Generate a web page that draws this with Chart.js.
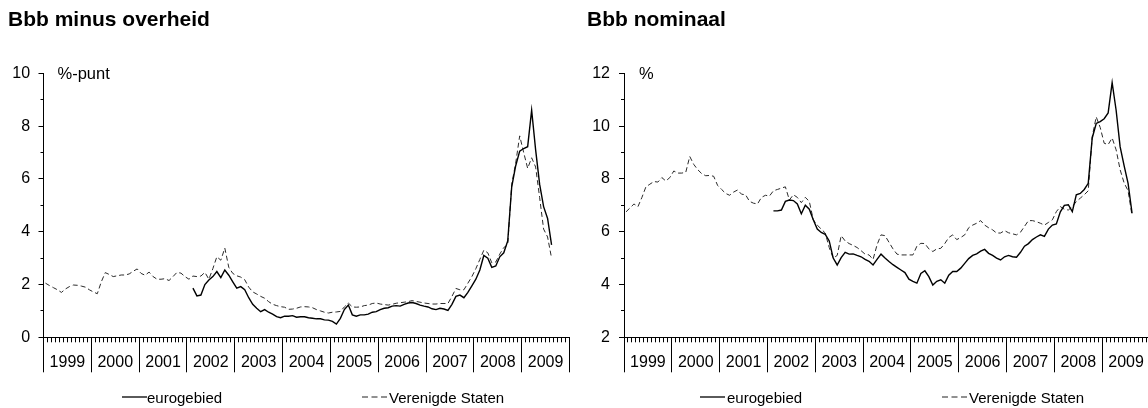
<!DOCTYPE html>
<html><head><meta charset="utf-8">
<script src="https://cdn.jsdelivr.net/npm/chart.js@4.4.1/dist/chart.umd.min.js"></script>
<style>
html,body{margin:0;padding:0;background:#fff;width:1148px;height:408px;overflow:hidden;position:relative;font-family:'Liberation Sans',Arial,sans-serif;color:#000}
.box{position:absolute;top:0;width:578px;height:408px}
.t{position:absolute;white-space:nowrap}
.title{font-weight:bold;font-size:21px;line-height:21px;top:8px}
.unit{font-size:16.5px;line-height:17px;top:65px}
.lg{font-size:15px;line-height:15px;top:390px}
svg.ls{position:absolute;top:392px;overflow:visible}
</style></head>
<body>
<div class="box" style="left:0"><canvas id="c1" width="578" height="408"></canvas></div>
<div class="box" style="left:578px"><canvas id="c2" width="578" height="408"></canvas></div>

<div class="t title" style="left:8px">Bbb minus overheid</div>
<div class="t title" style="left:587px">Bbb nominaal</div>
<div class="t unit" style="left:57.5px">%-punt</div>
<div class="t unit" style="left:639px">%</div>

<svg class="ls" style="left:122px" width="25" height="10"><line x1="0" y1="5" x2="25" y2="5" stroke="#000" stroke-width="1.3"/></svg>
<div class="t lg" style="left:147px">eurogebied</div>
<svg class="ls" style="left:362px" width="25" height="10"><line x1="0" y1="5" x2="25" y2="5" stroke="#222" stroke-width="1" stroke-dasharray="6 3.5"/></svg>
<div class="t lg" style="left:389px">Verenigde Staten</div>

<svg class="ls" style="left:700px" width="25" height="10"><line x1="0" y1="5" x2="25" y2="5" stroke="#000" stroke-width="1.3"/></svg>
<div class="t lg" style="left:727px">eurogebied</div>
<svg class="ls" style="left:942px" width="25" height="10"><line x1="0" y1="5" x2="25" y2="5" stroke="#222" stroke-width="1" stroke-dasharray="6 3.5"/></svg>
<div class="t lg" style="left:969px">Verenigde Staten</div>

<script>
// ---- data (monthly, Jan 1999 = month 0) ----
const years = [1999, 2000, 2001, 2002, 2003, 2004, 2005, 2006, 2007, 2008, 2009];
const firstUSMonth = 0;     // Jan 1999
const firstEuroMonth = 37;  // Feb 2002

// Bbb minus overheid (%-punt)
const spreadEuro = [
  1.86, 1.57, 1.6, 2.0, 2.17, 2.3, 2.49, 2.26, 2.55, 2.35, 2.1,
  1.86, 1.92, 1.8, 1.5, 1.25, 1.1, 0.97, 1.05, 0.95, 0.88, 0.78, 0.74,
  0.8, 0.8, 0.82, 0.76, 0.78, 0.78, 0.74, 0.72, 0.7, 0.7, 0.66, 0.65,
  0.6, 0.5, 0.72, 1.05, 1.22, 0.85, 0.8, 0.85, 0.85, 0.88, 0.95, 0.97,
  1.05, 1.1, 1.12, 1.18, 1.2, 1.18, 1.25, 1.3, 1.32, 1.28, 1.22, 1.18,
  1.15, 1.08, 1.05, 1.1, 1.07, 1.02, 1.25, 1.55, 1.6, 1.5, 1.7, 1.95,
  2.2, 2.55, 3.1, 3.0, 2.65, 2.7, 3.05, 3.2, 3.65, 5.7, 6.5, 7.05,
  7.15, 7.22, 8.6, 7.1, 5.8, 4.95, 4.5, 3.5
];
const spreadUS = [
  2.05, 1.96, 1.88, 1.8, 1.7, 1.83, 1.92, 1.98, 1.97, 1.94, 1.9, 1.8,
  1.72, 1.65, 2.1, 2.45, 2.38, 2.3, 2.33, 2.36, 2.36, 2.4, 2.5, 2.59,
  2.42, 2.35, 2.47, 2.3, 2.2, 2.2, 2.22, 2.15, 2.3, 2.46, 2.43, 2.3,
  2.2, 2.32, 2.3, 2.32, 2.46, 2.2, 2.6, 3.05, 2.92, 3.38, 2.65, 2.42,
  2.33, 2.28, 2.18, 1.9, 1.72, 1.64, 1.55, 1.48, 1.35, 1.25, 1.2, 1.16,
  1.14, 1.06, 1.07, 1.1, 1.15, 1.16, 1.15, 1.12, 1.05, 1.0, 0.95, 0.92,
  0.95, 0.96, 0.98, 1.15, 1.3, 1.15, 1.14, 1.15, 1.2, 1.22, 1.28, 1.3,
  1.26, 1.24, 1.22, 1.25, 1.29, 1.31, 1.33, 1.35, 1.39, 1.36, 1.33, 1.3,
  1.28, 1.26, 1.26, 1.28, 1.28, 1.28, 1.55, 1.85, 1.8, 1.8, 2.05, 2.3,
  2.6, 2.95, 3.3, 3.2, 2.82, 2.85, 3.15, 3.4, 3.5, 5.8, 6.6, 7.63,
  7.0, 6.4, 6.8, 6.45, 5.3, 4.1, 3.8, 3.0
];

// Bbb nominaal (%)
const nominalEuro = [
  6.79, 6.79, 6.82, 7.15, 7.2, 7.18, 7.05, 6.68, 7.0, 6.85, 6.45,
  6.1, 5.97, 5.9, 5.65, 5.0, 4.74, 5.02, 5.22, 5.15, 5.16, 5.1, 5.05,
  4.95, 4.88, 4.74, 4.95, 5.15, 5.0, 4.87, 4.75, 4.65, 4.55, 4.45, 4.2,
  4.12, 4.05, 4.42, 4.52, 4.3, 3.98, 4.12, 4.18, 4.05, 4.35, 4.49, 4.49,
  4.62, 4.8, 4.98, 5.1, 5.16, 5.26, 5.33, 5.18, 5.1, 5.0, 4.93, 5.05,
  5.1, 5.05, 5.03, 5.22, 5.45, 5.55, 5.7, 5.8, 5.88, 5.82, 6.1, 6.25,
  6.29, 6.75, 7.0, 7.02, 6.76, 7.4, 7.45, 7.6, 7.83, 9.55, 10.1, 10.17,
  10.28, 10.5, 11.65, 10.6, 9.22, 8.5, 7.83, 6.7
];
const nominalUS = [
  6.75, 6.9, 7.05, 6.95, 7.3, 7.7, 7.8, 7.9, 7.88, 8.05, 7.92, 8.05,
  8.3, 8.22, 8.22, 8.25, 8.85, 8.55, 8.35, 8.2, 8.12, 8.13, 8.1, 7.75,
  7.6, 7.45, 7.38, 7.5, 7.58, 7.42, 7.4, 7.15, 7.08, 7.05, 7.3, 7.38,
  7.35, 7.55, 7.6, 7.65, 7.7, 7.2, 7.4, 7.3, 7.1, 7.3, 7.15, 6.45,
  6.25, 6.1, 5.95, 5.4, 5.0, 5.1, 5.85, 5.65, 5.55, 5.48, 5.4, 5.28,
  5.15, 5.12, 4.95, 5.5, 5.88, 5.85, 5.6, 5.35, 5.15, 5.12, 5.12, 5.12,
  5.12, 5.45, 5.56, 5.55, 5.35, 5.25, 5.35, 5.37, 5.55, 5.78, 5.88, 5.7,
  5.78, 5.88, 6.15, 6.25, 6.32, 6.42, 6.25, 6.15, 6.07, 5.95, 5.95, 6.04,
  5.96, 5.92, 5.88, 5.98, 6.2, 6.42, 6.42, 6.38, 6.32, 6.25, 6.35, 6.45,
  6.76, 6.95, 6.85, 6.82, 6.95, 7.14, 7.27, 7.4, 7.55, 9.6, 10.35, 9.95,
  9.35, 9.3, 9.55, 9.1, 8.35, 7.85, 7.55, 6.6
];

const spreadTicks = [0, 2, 4, 6, 8, 10];
const nominalTicks = [2, 4, 6, 8, 10, 12];
const seriesNames = ['eurogebied', 'Verenigde Staten'];

// ---- chart setup ----
Chart.defaults.font.family = "'Liberation Sans', Arial, sans-serif";
Chart.defaults.color = '#000';

function pts(values, start) {
  return values.map((v, k) => ({ x: start + k + 0.5, y: v }));
}

function makeChart(id, euro, us, yTicks, L) {
  const nMonths = years.length * 12;
  const yMin = yTicks[0], yMax = yTicks[yTicks.length - 1];
  return new Chart(document.getElementById(id), {
    type: 'line',
    data: {
      datasets: [
        { label: seriesNames[0], data: pts(euro, firstEuroMonth), borderColor: '#000', borderWidth: 1.4,
          pointRadius: 0, tension: 0, fill: false },
        { label: seriesNames[1], data: pts(us, firstUSMonth), borderColor: '#2a2a2a', borderWidth: 1,
          borderDash: [5, 3], pointRadius: 0, tension: 0, fill: false }
      ]
    },
    options: {
      responsive: false, animation: false, events: [],
      layout: { padding: { left: 0, right: L.right, top: 73.3, bottom: 35.7 } },
      plugins: { legend: { display: false }, tooltip: { enabled: false }, title: { display: false } },
      scales: {
        x: {
          type: 'linear', position: 'bottom', min: 0, max: nMonths, weight: 0,
          afterBuildTicks: s => { s.ticks = Array.from({ length: nMonths + 1 }, (_, k) => ({ value: k })); },
          afterFit: s => { s.height = 5; },
          ticks: { display: false },
          grid: { display: true, drawOnChartArea: false, drawTicks: true, tickLength: 5, tickColor: '#000', tickWidth: 1 },
          border: { display: true, color: '#000', width: 1 }
        },
        xYear: {
          type: 'linear', position: 'bottom', min: 0, max: nMonths, weight: 1,
          afterBuildTicks: s => { s.ticks = Array.from({ length: years.length * 2 + 1 }, (_, k) => ({ value: k * 6 })); },
          afterFit: s => { s.height = 30; },
          ticks: {
            display: true, autoSkip: false, maxRotation: 0, minRotation: 0, padding: -19,
            color: '#000', font: { size: 16 },
            callback: v => (v % 12 === 6 ? String(years[(v - 6) / 12]) : '')
          },
          grid: {
            display: true, drawOnChartArea: false, drawTicks: true, tickLength: 30, tickWidth: 1,
            tickColor: c => (c.tick && c.tick.value % 12 === 0 ? '#000' : 'rgba(0,0,0,0)')
          },
          border: { display: false }
        },
        y: {
          type: 'linear', position: 'left', min: yMin, max: yMax, weight: 0,
          afterBuildTicks: s => { const a = []; for (let v = yMin; v <= yMax; v++) a.push({ value: v }); s.ticks = a; },
          afterFit: s => { s.width = 3; },
          ticks: { display: false },
          grid: { display: true, drawOnChartArea: false, drawTicks: true, tickLength: 3, tickColor: '#000' },
          border: { display: true, color: '#000', width: 1 }
        },
        yLab: {
          type: 'linear', position: 'left', min: yMin, max: yMax, weight: 1,
          afterBuildTicks: s => { s.ticks = yTicks.map(v => ({ value: v })); },
          afterFit: s => { s.width = L.outer; },
          ticks: { display: true, autoSkip: false, padding: L.tickPad, font: { size: 16 }, color: '#000' },
          grid: { display: true, drawOnChartArea: false, drawTicks: true, tickLength: 2, tickColor: '#000' },
          border: { display: false }
        }
      }
    }
  });
}

makeChart('c1', spreadEuro, spreadUS, spreadTicks, { outer: 40.5, right: 8.5, tickPad: 8.4 });
makeChart('c2', nominalEuro, nominalUS, nominalTicks, { outer: 43, right: 6, tickPad: 9 });
</script>
</body></html>
